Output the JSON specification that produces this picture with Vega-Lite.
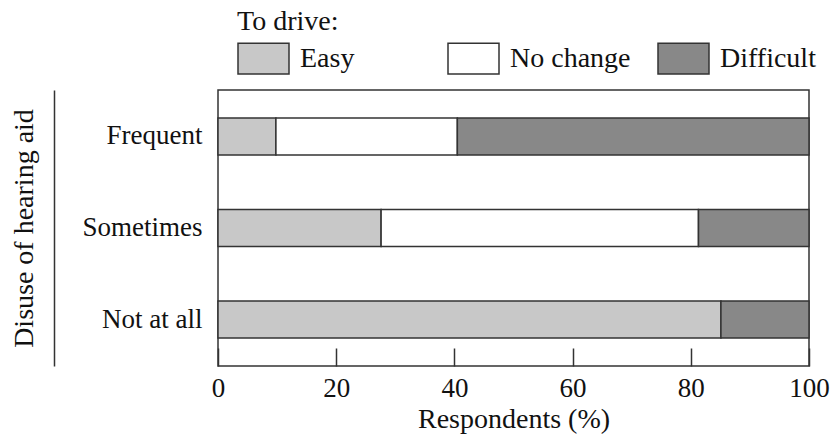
{
  "$schema": "https://vega.github.io/schema/vega-lite/v6.json",
  "width": 591,
  "height": 276,
  "autosize": {"type": "none"},
  "padding": {"left": 218, "top": 90, "right": 21, "bottom": 82},
  "background": "white",
  "config": {
    "view": {"stroke": "#333333", "strokeWidth": 1.5},
    "font": "Liberation Serif"
  },
  "data": {
    "values": [
      {"use": "Frequent", "drive": "Easy", "pct": 9.8, "order": 1},
      {"use": "Frequent", "drive": "No change", "pct": 30.7, "order": 2},
      {"use": "Frequent", "drive": "Difficult", "pct": 59.5, "order": 3},
      {"use": "Sometimes", "drive": "Easy", "pct": 27.6, "order": 1},
      {"use": "Sometimes", "drive": "No change", "pct": 53.7, "order": 2},
      {"use": "Sometimes", "drive": "Difficult", "pct": 18.7, "order": 3},
      {"use": "Not at all", "drive": "Easy", "pct": 85.1, "order": 1},
      {"use": "Not at all", "drive": "Difficult", "pct": 14.9, "order": 3}
    ]
  },
  "mark": {"type": "bar", "stroke": "#333333", "strokeWidth": 1.5},
  "encoding": {
    "y": {
      "field": "use",
      "type": "nominal",
      "sort": ["Frequent", "Sometimes", "Not at all"],
      "scale": {"paddingInner": 0.596, "paddingOuter": 0.306},
      "axis": {
        "title": "Disuse of hearing aid",
        "offset": 164,
        "domain": true,
        "domainColor": "#333333",
        "domainWidth": 1.5,
        "ticks": false,
        "tickSize": 0,
        "labelPadding": -148,
        "labelFont": "Liberation Serif",
        "labelFontSize": 27,
        "labelColor": "#111111",
        "titleFont": "Liberation Serif",
        "titleFontSize": 28,
        "titleFontWeight": "normal",
        "titleColor": "#111111",
        "titlePadding": 16
      }
    },
    "x": {
      "field": "pct",
      "type": "quantitative",
      "stack": "zero",
      "scale": {"domain": [0, 100], "nice": false},
      "axis": {
        "title": "Respondents (%)",
        "values": [0, 20, 40, 60, 80, 100],
        "grid": false,
        "domain": false,
        "tickSize": -18,
        "tickColor": "#333333",
        "tickWidth": 1.5,
        "labelPadding": 27,
        "labelFont": "Liberation Serif",
        "labelFontSize": 27,
        "labelColor": "#111111",
        "labelFlush": false,
        "titleFont": "Liberation Serif",
        "titleFontSize": 28,
        "titleFontWeight": "normal",
        "titleColor": "#111111",
        "titlePadding": 4
      }
    },
    "color": {
      "field": "drive",
      "type": "nominal",
      "sort": ["Easy", "No change", "Difficult"],
      "scale": {"domain": ["Easy", "No change", "Difficult"], "range": ["#c8c8c8", "#ffffff", "#888888"]},
      "legend": {
        "title": "To drive:",
        "orient": "none",
        "legendX": 19,
        "legendY": -82,
        "direction": "horizontal",
        "columns": 3,
        "gridAlign": "all",
        "columnPadding": 24,
        "padding": 0,
        "symbolType": "M-1,-0.6H1V0.6H-1Z",
        "symbolSize": 2601,
        "symbolStrokeColor": "#333333",
        "symbolStrokeWidth": 1.5,
        "symbolOpacity": 1,
        "labelFont": "Liberation Serif",
        "labelFontSize": 28,
        "labelColor": "#111111",
        "labelOffset": 10,
        "labelLimit": 300,
        "titleFont": "Liberation Serif",
        "titleFontSize": 28,
        "titleFontWeight": "normal",
        "titleColor": "#111111",
        "titlePadding": -4
      }
    },
    "order": {"field": "order"}
  }
}
